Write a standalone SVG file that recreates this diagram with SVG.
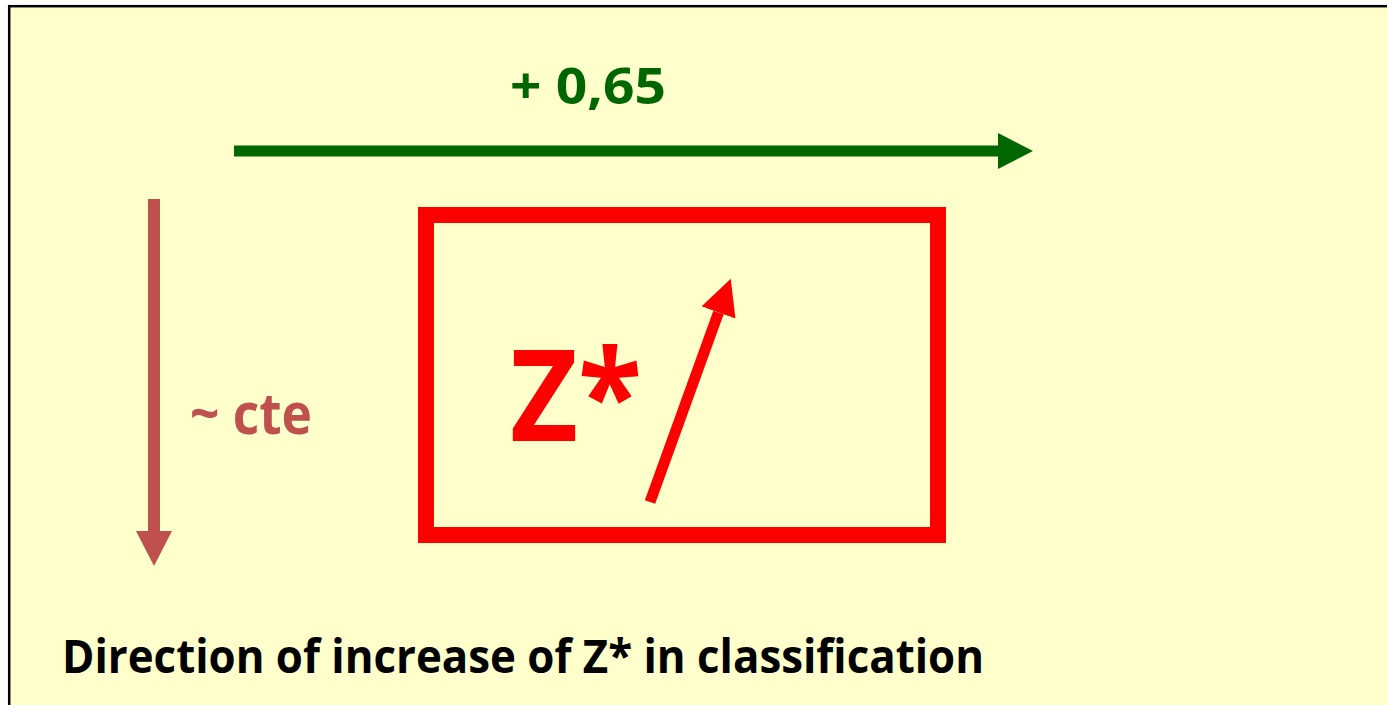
<svg xmlns="http://www.w3.org/2000/svg" width="1387" height="705" viewBox="0 0 1387 705">
<style>
.t{font-family:"Open Sans","Noto Sans","Liberation Sans",sans-serif;font-weight:bold}
</style>
<defs>
<marker id="hg" markerUnits="userSpaceOnUse" markerWidth="40" markerHeight="40" refX="0" refY="18" orient="auto" viewBox="0 0 40 40"><path d="M0,0 L35,18 L0,36 Z" fill="#006600"/></marker>
<marker id="hb" markerUnits="userSpaceOnUse" markerWidth="40" markerHeight="40" refX="0" refY="18" orient="auto" viewBox="0 0 40 40"><path d="M0,0 L35,18 L0,36 Z" fill="#C0504D"/></marker>
<marker id="hr" markerUnits="userSpaceOnUse" markerWidth="40" markerHeight="40" refX="0" refY="18" orient="auto" viewBox="0 0 40 40"><path d="M0,0 L36,18 L0,36 Z" fill="#FF0000"/></marker>
</defs>
<rect x="9.2" y="6.2" width="1400" height="720" fill="#FFFFCC" stroke="#000" stroke-width="2.5"/>
<g id="connectors">
<line x1="234" y1="151" x2="998" y2="151" stroke="#006600" stroke-width="11" marker-end="url(#hg)"/>
<line x1="154" y1="199" x2="154" y2="531" stroke="#C0504D" stroke-width="12" marker-end="url(#hb)"/>
<line x1="650" y1="502" x2="718.5" y2="312.5" stroke="#FF0000" stroke-width="11" marker-end="url(#hr)"/>
</g>
<g id="node-box">
<rect x="426" y="215" width="512" height="320" fill="none" stroke="#FF0000" stroke-width="16"/>
<text class="t" x="510" y="441" font-size="128" fill="#FF0000" textLength="132" lengthAdjust="spacingAndGlyphs">Z*</text>
</g>
<g id="label-green"><text class="t" x="510" y="104" font-size="50" fill="#006600" textLength="156" lengthAdjust="spacingAndGlyphs">+ 0,65</text></g>
<g id="label-cte"><text class="t" x="190" y="434" font-size="57" fill="#C0504D" textLength="122" lengthAdjust="spacingAndGlyphs">~ cte</text></g>
<g id="caption"><text class="t" x="62" y="673" font-size="47" fill="#000" textLength="922" lengthAdjust="spacingAndGlyphs">Direction of increase of Z* in classification</text></g>
</svg>
